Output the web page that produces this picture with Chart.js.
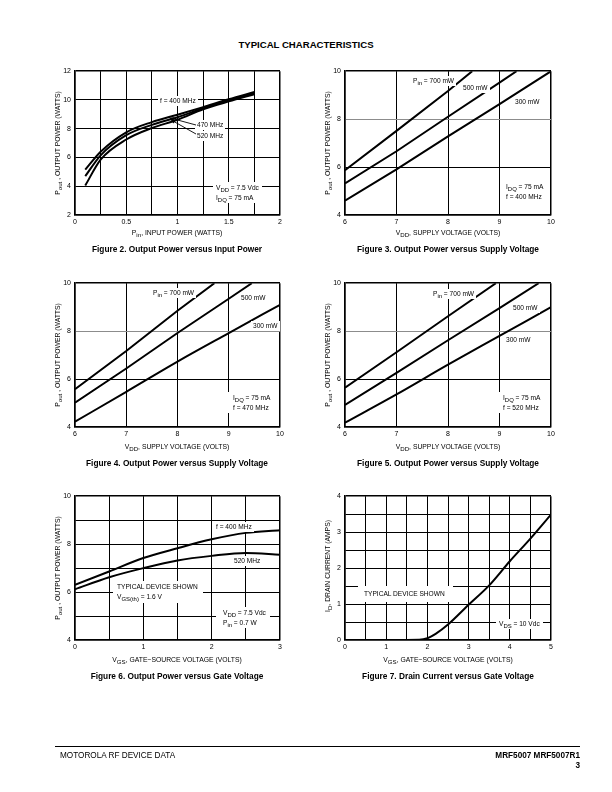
<!DOCTYPE html>
<html>
<head>
<meta charset="utf-8">
<script src="https://cdn.jsdelivr.net/npm/chart.js@4.4.1/dist/chart.umd.min.js"></script>
<style>
  body { margin: 0; background: #fff; }
  #page { position: relative; width: 612px; height: 792px; overflow: hidden; background: #fff;
          font-family: "Liberation Sans", Arial, Helvetica, sans-serif; color: #000; }
  canvas { position: absolute; }
  .c { position: absolute; white-space: nowrap; transform: translate(-50%, -50%); }
  .v { position: absolute; white-space: nowrap; transform: translate(-50%, -50%) rotate(-90deg); font-size: 6.8px; }
  .ax { font-size: 6.8px; }
  .cap { font-size: 8.3px; font-weight: bold; }
  .note { position: absolute; white-space: nowrap; font-size: 6.6px; line-height: 9.5px; background: #fff; padding: 0 2px;
          filter: grayscale(100%); }
  .foot { position: absolute; font-size: 8.2px; filter: grayscale(100%); }
  sub { font-size: 90%; vertical-align: -2px; line-height: 0; }
</style>
</head>
<body>
<div id="page">
  <div class="c" style="left:306px;top:44px;font-size:9.6px;font-weight:bold;">TYPICAL CHARACTERISTICS</div>

  <canvas id="fig2"></canvas>
  <canvas id="fig3"></canvas>
  <canvas id="fig4"></canvas>
  <canvas id="fig5"></canvas>
  <canvas id="fig6"></canvas>
  <canvas id="fig7"></canvas>

  <!-- axis titles -->
  <div class="v" style="left:57px;top:143px;">P<sub>out</sub> , OUTPUT POWER (WATTS)</div>
  <div class="c ax" style="left:177px;top:232px;">P<sub>in</sub>, INPUT POWER (WATTS)</div>
  <div class="v" style="left:327px;top:143px;">P<sub>out</sub> , OUTPUT POWER (WATTS)</div>
  <div class="c ax" style="left:448px;top:232px;">V<sub>DD</sub>, SUPPLY VOLTAGE (VOLTS)</div>
  <div class="v" style="left:57px;top:355px;">P<sub>out</sub> , OUTPUT POWER (WATTS)</div>
  <div class="c ax" style="left:177px;top:446px;">V<sub>DD</sub>, SUPPLY VOLTAGE (VOLTS)</div>
  <div class="v" style="left:327px;top:355px;">P<sub>out</sub> , OUTPUT POWER (WATTS)</div>
  <div class="c ax" style="left:448px;top:446px;">V<sub>DD</sub>, SUPPLY VOLTAGE (VOLTS)</div>
  <div class="v" style="left:57px;top:568px;">P<sub>out</sub> , OUTPUT POWER (WATTS)</div>
  <div class="c ax" style="left:177px;top:659px;">V<sub>GS</sub>, GATE&#8722;SOURCE VOLTAGE (VOLTS)</div>
  <div class="v" style="left:327px;top:566px;">I<sub>D</sub>, DRAIN CURRENT (AMPS)</div>
  <div class="c ax" style="left:448px;top:659px;">V<sub>GS</sub>, GATE&#8722;SOURCE VOLTAGE (VOLTS)</div>

  <!-- captions -->
  <div class="c cap" style="left:177px;top:249px;">Figure 2. Output Power versus Input Power</div>
  <div class="c cap" style="left:448px;top:249px;">Figure 3. Output Power versus Supply Voltage</div>
  <div class="c cap" style="left:177px;top:463px;">Figure 4. Output Power versus Supply Voltage</div>
  <div class="c cap" style="left:448px;top:463px;">Figure 5. Output Power versus Supply Voltage</div>
  <div class="c cap" style="left:177px;top:676px;">Figure 6. Output Power versus Gate Voltage</div>
  <div class="c cap" style="left:448px;top:676px;">Figure 7. Drain Current versus Gate Voltage</div>

  <!-- notes fig 2 -->
  <div class="note" style="left:158px;top:96px;">f = 400 MHz</div>
  <div class="note" style="left:195px;top:120px;">470 MHz</div>
  <div class="note" style="left:195px;top:131px;">520 MHz</div>
  <svg style="position:absolute;left:0;top:0;" width="612" height="792">
    <line x1="196" y1="125" x2="172" y2="118.5" stroke="#000" stroke-width="0.9"/>
    <polygon points="169,117.7 174.5,117.3 173.2,121.2" fill="#000"/>
    <line x1="196" y1="134" x2="173" y2="121" stroke="#000" stroke-width="0.9"/>
    <polygon points="170.5,119.5 175.6,120.2 173.5,123.6" fill="#000"/>
  </svg>
  <div class="note" style="left:213px;top:182px;padding:1px 3px;">V<sub>DD</sub> = 7.5 Vdc<br>I<sub>DQ</sub> = 75 mA</div>

  <!-- notes fig 3 -->
  <div class="note" style="left:411px;top:76px;">P<sub>in</sub> = 700 mW</div>
  <div class="note" style="left:461px;top:83px;">500 mW</div>
  <div class="note" style="left:513px;top:97px;">300 mW</div>
  <div class="note" style="left:500px;top:181px;padding:1px 4px 1px 6px;">I<sub>DQ</sub> = 75 mA<br>f = 400 MHz</div>

  <!-- notes fig 4 -->
  <div class="note" style="left:151px;top:288px;">P<sub>in</sub> = 700 mW</div>
  <div class="note" style="left:239px;top:293px;">500 mW</div>
  <div class="note" style="left:251px;top:321px;">300 mW</div>
  <div class="note" style="left:227px;top:392px;padding:1px 4px 1px 6px;">I<sub>DQ</sub> = 75 mA<br>f = 470 MHz</div>

  <!-- notes fig 5 -->
  <div class="note" style="left:431px;top:289px;">P<sub>in</sub> = 700 mW</div>
  <div class="note" style="left:511px;top:303px;">500 mW</div>
  <div class="note" style="left:504px;top:335px;">300 mW</div>
  <div class="note" style="left:497px;top:392px;padding:1px 4px 1px 6px;">I<sub>DQ</sub> = 75 mA<br>f = 520 MHz</div>

  <!-- notes fig 6 -->
  <div class="note" style="left:214px;top:522px;">f = 400 MHz</div>
  <div class="note" style="left:232px;top:556px;">520 MHz</div>
  <div class="note" style="left:113px;top:581px;padding:1px 5px 2px 4px;">TYPICAL DEVICE SHOWN<br>V<sub>GS(th)</sub> = 1.6 V</div>
  <div class="note" style="left:216px;top:607px;padding:1px 4px 1px 7px;">V<sub>DD</sub> = 7.5 Vdc<br>P<sub>in</sub> = 0.7 W</div>

  <!-- notes fig 7 -->
  <div class="note" style="left:358px;top:586px;padding:3px 8px 3px 6px;">TYPICAL DEVICE SHOWN</div>
  <div class="note" style="left:496px;top:619px;padding:0 3px;">V<sub>DS</sub> = 10 Vdc</div>

  <!-- footer -->
  <div style="position:absolute;left:55px;top:746px;width:525px;height:1.3px;background:#000;"></div>
  <div class="foot" style="left:60px;top:751px;">MOTOROLA RF DEVICE DATA</div>
  <div class="foot" style="right:32px;top:751px;font-weight:bold;text-align:right;line-height:9.6px;">MRF5007 MRF5007R1<br>3</div>
</div>

<script>
// Figure 2: Pout vs Pin (VDD = 7.5 Vdc)
const fig2Pin  = [0.1, 0.25, 0.5, 0.75, 1.0, 1.25, 1.5, 1.75];
const fig2F400 = [5.15, 6.4, 7.75, 8.46, 8.97, 9.5, 10.05, 10.55];
const fig2F470 = [4.7, 6.15, 7.55, 8.27, 8.8, 9.42, 9.97, 10.48];
const fig2F520 = [4.05, 5.85, 7.25, 8.05, 8.62, 9.35, 9.9, 10.4];
const fig2XTicks = [0, 0.5, 1, 1.5, 2];
const fig2YTicks = [2, 4, 6, 8, 10, 12];

// Figure 3: Pout vs VDD, f = 400 MHz
const fig3Vdd700 = [6, 7, 8, 8.47];
const fig3P700   = [5.87, 7.51, 9.17, 10];
const fig3Vdd500 = [6, 7, 8, 9, 9.33];
const fig3P500   = [5.32, 6.66, 8.1, 9.52, 10];
const fig3Vdd300 = [6, 7, 8, 9, 10];
const fig3P300   = [4.6, 5.9, 7.28, 8.63, 10];

// Figure 4: Pout vs VDD, f = 470 MHz
const fig4Vdd700 = [6, 7, 8, 8.72];
const fig4P700   = [5.58, 7.17, 8.85, 10];
const fig4Vdd500 = [6, 7, 8, 9, 9.45];
const fig4P500   = [5.01, 6.44, 7.92, 9.35, 10];
const fig4Vdd300 = [6, 7, 8, 9, 10];
const fig4P300   = [4.22, 5.47, 6.73, 7.92, 9.1];

// Figure 5: Pout vs VDD, f = 520 MHz
const fig5Vdd700 = [6, 7, 8, 8.93];
const fig5P700   = [5.64, 7.12, 8.62, 10];
const fig5Vdd500 = [6, 7, 8, 9, 9.76];
const fig5P500   = [4.92, 6.26, 7.62, 8.96, 10];
const fig5Vdd300 = [6, 7, 8, 9, 10];
const fig5P300   = [4.18, 5.36, 6.6, 7.8, 9.0];

const vddXTicks = [6, 7, 8, 9, 10];
const vddYTicks = [4, 6, 8, 10];

// Figure 6: Pout vs VGS
const fig6Vgs  = [0, 0.5, 1, 1.5, 2, 2.5, 3];
const fig6F400 = [6.3, 6.86, 7.42, 7.83, 8.2, 8.47, 8.58];
const fig6F520 = [6.12, 6.62, 7.0, 7.32, 7.51, 7.63, 7.56];
const fig6XTicks = [0, 1, 2, 3];
const fig6YTicks = [4, 6, 8, 10];

// Figure 7: ID vs VGS
const fig7Vgs = [0, 1.8, 2.0, 2.2, 2.5, 3.0, 3.5, 4.0, 4.5, 5.0];
const fig7Id  = [0, 0.01, 0.05, 0.17, 0.43, 0.98, 1.52, 2.19, 2.82, 3.49];
const fig7XTicks = [0, 1, 2, 3, 4, 5];
const fig7YTicks = [0, 1, 2, 3, 4];

const FONT = '"Liberation Sans", Arial, Helvetica, sans-serif';
const PAD_L = 30, PAD_R = 10, PAD_T = 8, PAD_B = 16;

function near(list, v) {
  return list.some(t => Math.abs(t - v) < 1e-6);
}

function axisOpts(a, grayAt) {
  const isEdge = v => Math.abs(v - a.min) < 1e-6 || Math.abs(v - a.max) < 1e-6;
  return {
    type: 'linear', min: a.min, max: a.max,
    border: { display: true, color: '#000', width: 1.5 },
    grid: {
      drawTicks: false,
      color: ctx => (grayAt !== undefined && Math.abs(ctx.tick.value - grayAt) < 1e-6) ? '#8c8c8c' : '#000',
      lineWidth: ctx => isEdge(ctx.tick.value) ? 1.5 : 1
    },
    ticks: {
      stepSize: a.step, autoSkip: false, maxRotation: 0, minRotation: 0,
      padding: a.pad, color: '#000', font: { family: FONT, size: 7 },
      callback: v => near(a.labels, v) ? String(v) : ''
    }
  };
}

function drawFig(id, box, xa, ya, series, grayY) {
  const cv = document.getElementById(id);
  cv.width = box.w + PAD_L + PAD_R;
  cv.height = box.h + PAD_T + PAD_B;
  cv.style.left = (box.x - PAD_L) + 'px';
  cv.style.top = (box.y - PAD_T) + 'px';

  const xs = axisOpts(xa);
  xs.afterFit = s => { s.height = PAD_B; };
  const ys = axisOpts(ya, grayY);
  ys.afterFit = s => { s.width = PAD_L; };

  return new Chart(cv, {
    type: 'line',
    data: {
      datasets: series.map(s => ({
        data: s.x.map((x, i) => ({ x: x, y: s.y[i] })),
        borderColor: '#000',
        borderWidth: 2,
        pointRadius: 0,
        fill: false,
        tension: s.smooth ? 0.4 : 0,
        cubicInterpolationMode: s.smooth ? 'monotone' : 'default'
      }))
    },
    options: {
      responsive: false,
      animation: false,
      devicePixelRatio: 1,
      layout: { padding: { top: PAD_T, right: PAD_R, left: 0, bottom: 0 } },
      plugins: { legend: { display: false }, tooltip: { enabled: false } },
      scales: { x: xs, y: ys }
    }
  });
}

const vddX = { min: 6, max: 10, step: 1, labels: vddXTicks, pad: 3 };
const vddY = { min: 4, max: 10, step: 2, labels: vddYTicks, pad: 4 };

drawFig('fig2', { x: 75, y: 71, w: 205, h: 144 },
  { min: 0, max: 2, step: 0.25, labels: fig2XTicks, pad: 3 },
  { min: 2, max: 12, step: 2, labels: fig2YTicks, pad: 4 },
  [
    { x: fig2Pin, y: fig2F400, smooth: true },
    { x: fig2Pin, y: fig2F470, smooth: true },
    { x: fig2Pin, y: fig2F520, smooth: true }
  ]);

drawFig('fig3', { x: 345, y: 71, w: 206, h: 144 }, vddX, vddY, [
  { x: fig3Vdd700, y: fig3P700 },
  { x: fig3Vdd500, y: fig3P500 },
  { x: fig3Vdd300, y: fig3P300 }
], 8);

drawFig('fig4', { x: 75, y: 283, w: 205, h: 144 }, vddX, vddY, [
  { x: fig4Vdd700, y: fig4P700 },
  { x: fig4Vdd500, y: fig4P500 },
  { x: fig4Vdd300, y: fig4P300, smooth: true }
], 8);

drawFig('fig5', { x: 345, y: 283, w: 206, h: 144 }, vddX, vddY, [
  { x: fig5Vdd700, y: fig5P700 },
  { x: fig5Vdd500, y: fig5P500 },
  { x: fig5Vdd300, y: fig5P300, smooth: true }
], 8);

drawFig('fig6', { x: 75, y: 496, w: 205, h: 144 },
  { min: 0, max: 3, step: 0.5, labels: fig6XTicks, pad: 3 },
  { min: 4, max: 10, step: 1, labels: fig6YTicks, pad: 4 },
  [
    { x: fig6Vgs, y: fig6F400, smooth: true },
    { x: fig6Vgs, y: fig6F520, smooth: true }
  ]);

drawFig('fig7', { x: 345, y: 496, w: 206, h: 144 },
  { min: 0, max: 5, step: 0.5, labels: fig7XTicks, pad: 3 },
  { min: 0, max: 4, step: 0.5, labels: fig7YTicks, pad: 4 },
  [
    { x: fig7Vgs, y: fig7Id, smooth: true }
  ]);
</script>
</body>
</html>
